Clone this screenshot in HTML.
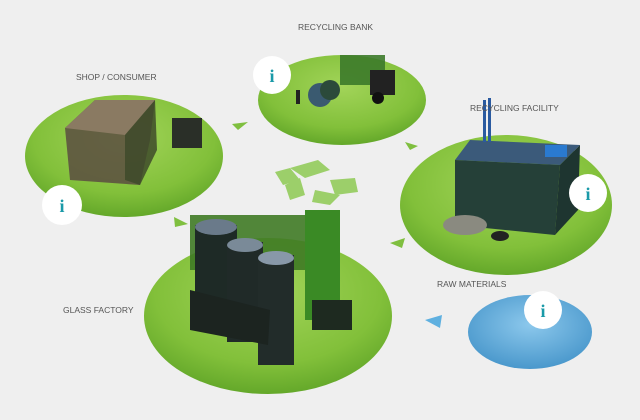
<!DOCTYPE html>
<html><head><meta charset="utf-8"><style>
body{margin:0;background:#efefef;}
svg{display:block;}
text{font-family:"Liberation Sans",sans-serif;font-size:8.5px;fill:#555;}
.i{font-family:"Liberation Serif",serif;font-size:18px;font-weight:bold;fill:#1a9aa8;text-anchor:middle;}
</style></head><body>
<svg width="640" height="420" viewBox="0 0 640 420">
<defs>
<radialGradient id="g" cx="50%" cy="35%" r="65%"><stop offset="0" stop-color="#a2d459"/><stop offset="0.7" stop-color="#82c03a"/><stop offset="1" stop-color="#64a82a"/></radialGradient>
<radialGradient id="b" cx="50%" cy="40%" r="60%"><stop offset="0" stop-color="#8cc8ec"/><stop offset="1" stop-color="#4a98cc"/></radialGradient>
</defs>
<rect width="640" height="420" fill="#efefef"/>
<ellipse cx="124" cy="156" rx="99" ry="61" fill="url(#g)"/>
<ellipse cx="342" cy="100" rx="84" ry="45" fill="url(#g)"/>
<ellipse cx="506" cy="205" rx="106" ry="70" fill="url(#g)"/>
<ellipse cx="268" cy="316" rx="124" ry="78" fill="url(#g)"/>
<ellipse cx="530" cy="332" rx="62" ry="37" fill="url(#b)"/>
<!-- shop -->
<polygon points="65,128 95,100 155,100 150,140 140,185 70,180" fill="#5d5340" opacity="0.9"/>
<polygon points="65,128 125,135 155,100 95,100" fill="#8a7a62"/>
<polygon points="125,135 155,100 157,150 140,185 125,180" fill="#3e4a2a" opacity="0.85"/>
<rect x="172" y="118" width="30" height="30" fill="#2a2f28"/>
<!-- recycling bank -->
<rect x="340" y="55" width="45" height="30" fill="#3c7a2a" opacity="0.9"/>
<rect x="370" y="70" width="25" height="25" fill="#222"/>
<circle cx="320" cy="95" r="12" fill="#3a5a70"/>
<circle cx="330" cy="90" r="10" fill="#2b4a3a"/>
<circle cx="378" cy="98" r="6" fill="#111"/>
<rect x="296" y="90" width="4" height="14" fill="#222"/>
<!-- facility -->
<polygon points="455,160 470,140 580,145 560,165" fill="#3b5a7a"/>
<polygon points="455,160 560,165 555,235 455,225" fill="#254038"/>
<polygon points="560,165 580,145 578,210 555,235" fill="#1e3530"/>
<rect x="483" y="100" width="3" height="42" fill="#2a5aa0"/>
<rect x="488" y="98" width="3" height="44" fill="#2a5aa0"/>
<rect x="545" y="145" width="22" height="12" fill="#2a7ad0"/>
<ellipse cx="465" cy="225" rx="22" ry="10" fill="#8a8a80"/>
<ellipse cx="500" cy="236" rx="9" ry="5" fill="#222"/>
<!-- glass factory -->
<rect x="190" y="215" width="115" height="55" fill="#3f7a25" opacity="0.9"/>
<rect x="305" y="210" width="35" height="110" fill="#3a8a25"/>
<rect x="195" y="225" width="42" height="105" fill="#1e2a26"/>
<ellipse cx="216" cy="227" rx="21" ry="8" fill="#6a7a8a"/>
<rect x="227" y="242" width="36" height="100" fill="#202a28"/>
<ellipse cx="245" cy="245" rx="18" ry="7" fill="#7a8a98"/>
<rect x="258" y="255" width="36" height="110" fill="#222c2a"/>
<ellipse cx="276" cy="258" rx="18" ry="7" fill="#8898a8"/>
<polygon points="190,290 270,310 268,345 190,330" fill="#1c2420"/>
<rect x="312" y="300" width="40" height="30" fill="#1e2a20"/>
<!-- recycle -->
<polygon points="290,168 318,160 330,170 305,178" fill="#9ccf6a"/>
<polygon points="330,180 355,178 358,192 335,195" fill="#9ccf6a"/>
<polygon points="285,185 300,178 305,195 290,200" fill="#9ccf6a"/>
<polygon points="315,190 340,195 330,205 312,202" fill="#9ccf6a"/>
<polygon points="275,172 290,168 300,180 283,185" fill="#9ccf6a"/>
<!-- arrows -->
<polygon points="232,124 248,122 238,130" fill="#7fbf3f"/>
<polygon points="405,142 418,146 410,150" fill="#7fbf3f"/>
<polygon points="174,217 188,224 175,227" fill="#7fbf3f"/>
<polygon points="390,243 405,238 402,248" fill="#7fbf3f"/>
<polygon points="425,320 442,315 440,328" fill="#5fb0e0"/>
<!-- info -->
<circle cx="62" cy="205" r="20" fill="#fff"/><text class="i" x="62" y="212">i</text>
<circle cx="272" cy="75" r="19" fill="#fff"/><text class="i" x="272" y="82">i</text>
<circle cx="588" cy="193" r="19" fill="#fff"/><text class="i" x="588" y="200">i</text>
<circle cx="543" cy="310" r="19" fill="#fff"/><text class="i" x="543" y="317">i</text>
<text x="76" y="80">SHOP / CONSUMER</text>
<text x="298" y="30">RECYCLING BANK</text>
<text x="470" y="111">RECYCLING FACILITY</text>
<text x="63" y="313">GLASS FACTORY</text>
<text x="437" y="287">RAW MATERIALS</text>
</svg>
</body></html>
